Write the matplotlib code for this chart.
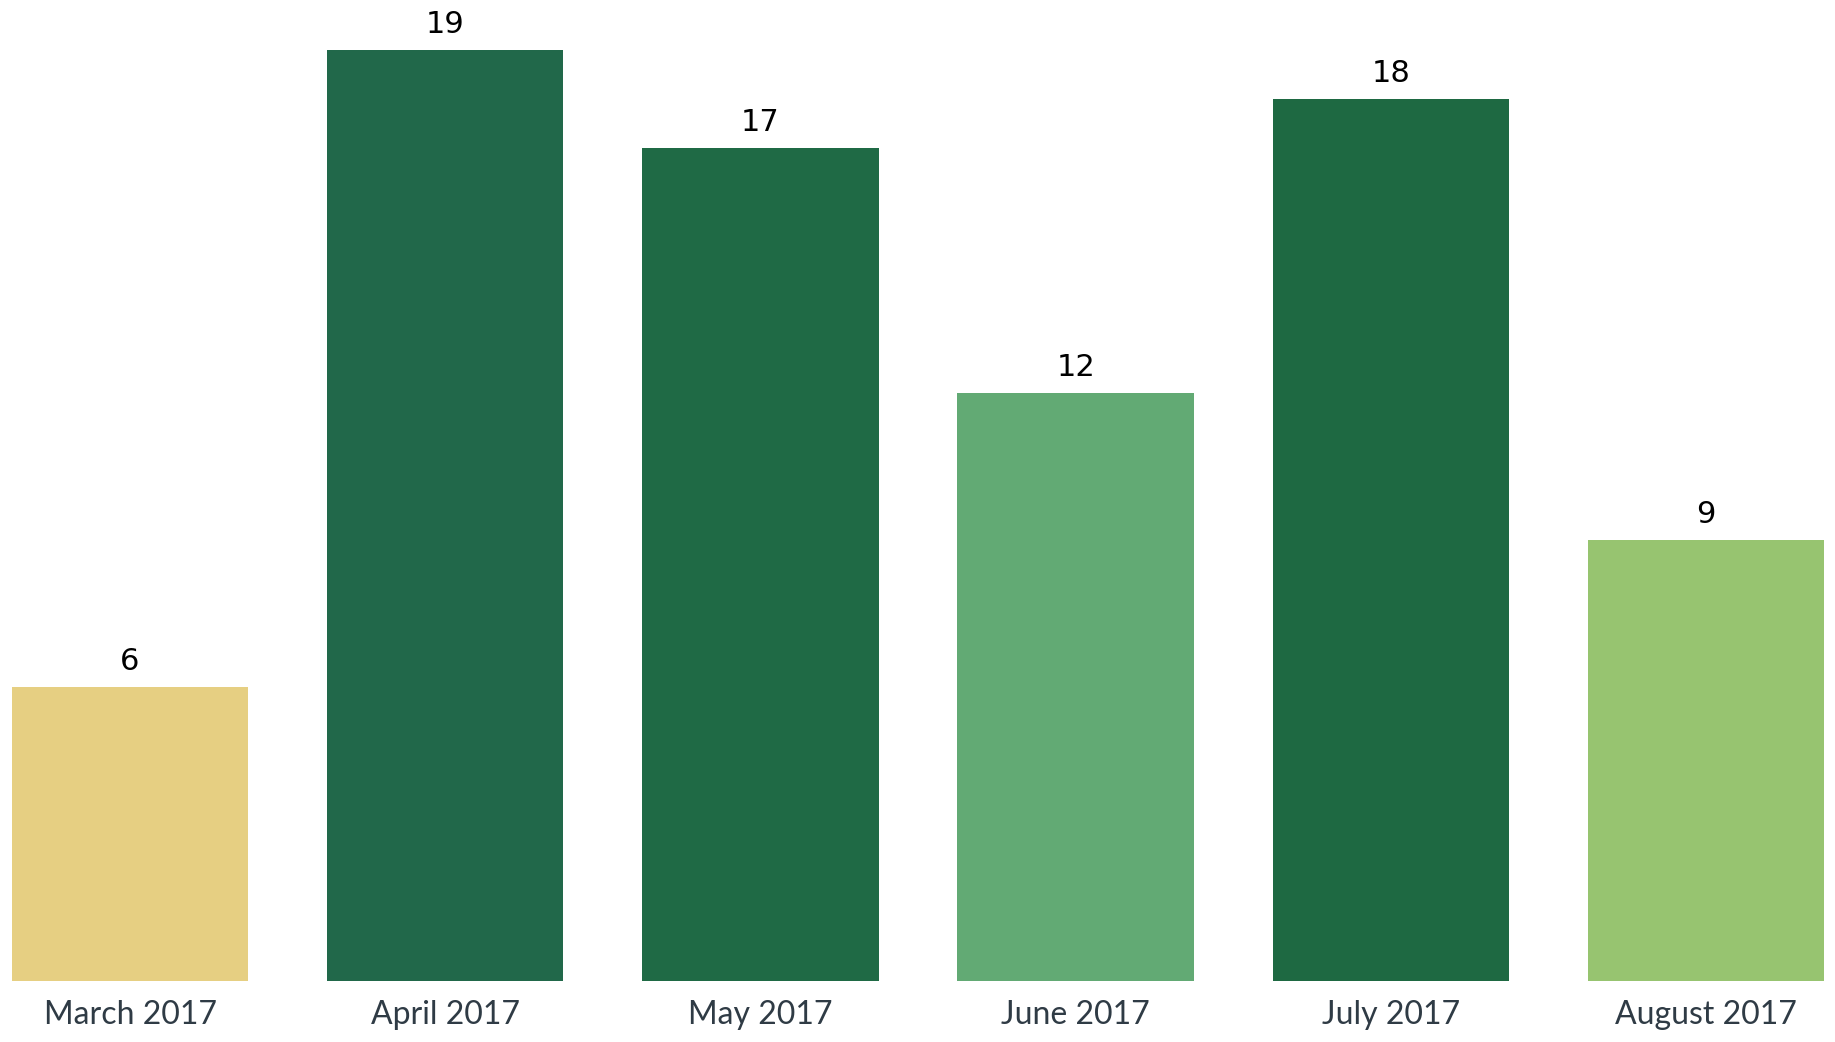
import matplotlib
matplotlib.use("Agg")
import matplotlib.pyplot as plt

months = ["March 2017", "April 2017", "May 2017", "June 2017", "July 2017", "August 2017"]
counts = [6, 19, 17, 12, 18, 9]
colors = ["#E6CF82", "#21684A", "#1F6A45", "#62AA74", "#1E6942", "#97C470"]

fig = plt.figure(figsize=(18.35, 10.42), dpi=100)
fig.patch.set_facecolor("white")
ax = fig.add_axes([0, 1 - 981 / 1042, 1, 980 / 1042])
x = list(range(len(months)))
ax.bar(x, counts, width=0.75, color=colors)
ax.set_xlim(-130 / 315.2, 5 + 129 / 315.2)
ax.set_ylim(0, 20)
for s in ax.spines.values():
    s.set_visible(False)
ax.set_yticks([])
ax.set_xticks(x)
ax.set_xticklabels(months, family="Lato", fontsize=23, color="#2f3b45")
ax.tick_params(axis="x", length=0, pad=14)
for xi, v in zip(x, counts):
    ax.annotate(str(v), (xi, v), xytext=(0, 8), textcoords="offset points",
                ha="center", va="bottom", fontsize=22, family="DejaVu Sans", color="#000000")
fig.savefig("out.png", dpi=100, facecolor="white")
